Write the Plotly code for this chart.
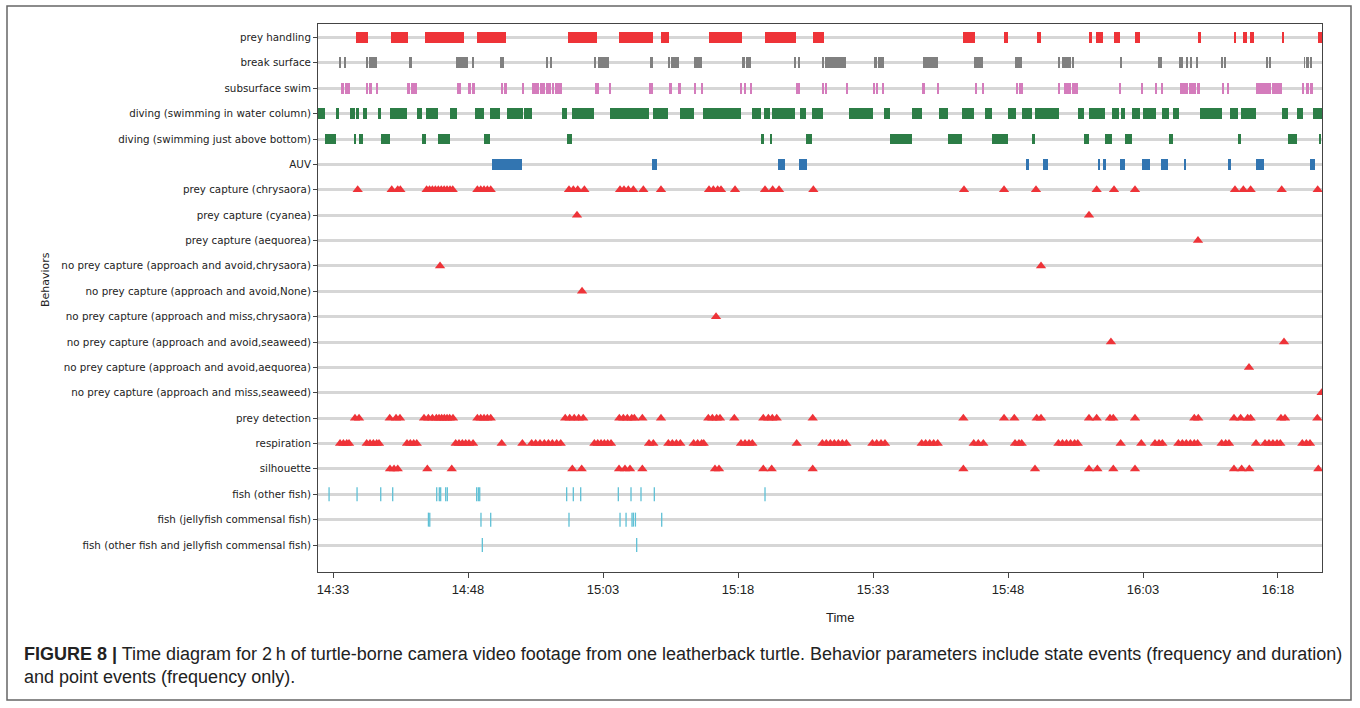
import plotly.graph_objects as go

# ---- axis / category labels ----
behaviors = [
    "prey handling", "break surface", "subsurface swim",
    "diving (swimming in water column)", "diving (swimming just above bottom)", "AUV",
    "prey capture (chrysaora)", "prey capture (cyanea)", "prey capture (aequorea)",
    "no prey capture (approach and avoid,chrysaora)", "no prey capture (approach and avoid,None)",
    "no prey capture (approach and miss,chrysaora)", "no prey capture (approach and avoid,seaweed)",
    "no prey capture (approach and avoid,aequorea)", "no prey capture (approach and miss,seaweed)",
    "prey detection", "respiration", "silhouette", "fish (other fish)",
    "fish (jellyfish commensal fish)", "fish (other fish and jellyfish commensal fish)",
]
tick_minutes = [0, 15, 30, 45, 60, 75, 90, 105]          # minutes after 14:33
tick_labels = ["14:33", "14:48", "15:03", "15:18", "15:33", "15:48", "16:03", "16:18"]
x_start, x_end = -1.67, 109.89                           # observed window (minutes after 14:33)

# ---- state events: (start, end) in minutes after 14:33 ----
prey_handling = [(2.52, 3.92), (6.44, 8.30), (10.22, 14.56), (16.03, 19.26), (26.14, 29.30),
                 (31.81, 35.52), (36.44, 37.37), (41.78, 45.41), (48.0, 51.44), (53.3, 54.56),
                 (70.03, 71.37), (74.59, 75.03), (78.19, 78.63), (84.03, 84.33), (84.78, 85.52),
                 (86.74, 87.44), (89.08, 89.70), (96.14, 96.41), (100.14, 100.33), (101.08, 101.52),
                 (101.92, 102.30), (105.44, 105.70), (109.41, 109.89)]
break_surface = [(0.70, 0.82), (1.22, 1.34), (3.67, 3.85), (4.0, 4.85), (8.4, 8.77), (13.7, 14.1),
                 (14.15, 14.97), (15.45, 15.57), (18.6, 18.97), (23.7, 23.82), (24.2, 24.32),
                 (29.03, 29.2), (29.4, 30.7), (35.3, 35.52), (37.26, 37.4), (37.55, 38.48),
                 (40.14, 41.03), (45.48, 45.8), (45.9, 46.41), (51.33, 51.45), (51.7, 51.82),
                 (54.4, 54.6), (54.67, 57.0), (60.14, 60.4), (60.5, 61.22), (65.59, 67.26),
                 (71.33, 71.5), (71.6, 72.0), (72.1, 72.26), (75.78, 75.9), (76.0, 76.12),
                 (76.2, 76.52), (80.59, 80.71), (80.96, 81.5), (81.6, 81.72), (81.85, 82.05),
                 (82.15, 82.27), (87.52, 87.64), (91.63, 92.07), (94.0, 94.12), (94.3, 94.48),
                 (94.85, 94.97), (95.33, 95.45), (95.96, 96.08), (98.74, 98.86), (99.07, 99.19),
                 (103.74, 103.86), (104.1, 104.26), (107.89, 108.0), (108.2, 108.4), (108.6, 108.78)]
subsurface_swim = [(0.85, 1.25), (1.35, 1.89), (3.74, 3.9), (4.1, 4.3), (4.85, 5.04), (8.26, 8.6),
                   (8.7, 9.33), (13.85, 14.0), (14.1, 14.22), (14.96, 15.3), (15.4, 15.78),
                   (18.63, 18.9), (19.0, 19.37), (20.96, 21.19), (22.15, 22.9), (23.0, 23.6),
                   (23.7, 24.2), (24.3, 24.6), (24.7, 25.48), (29.19, 29.3), (29.35, 29.47),
                   (30.7, 30.85), (35.11, 35.25), (35.4, 35.59), (37.37, 37.63), (38.44, 38.63),
                   (40.17, 40.29), (40.98, 41.1), (45.33, 45.45), (45.7, 45.82), (46.4, 46.52),
                   (51.44, 51.89), (54.44, 54.6), (54.7, 54.85), (57.0, 57.26), (60.04, 60.25),
                   (60.35, 60.52), (61.1, 61.22), (65.48, 65.78), (67.2, 67.32), (71.33, 71.59),
                   (72.2, 72.32), (75.96, 76.15), (76.25, 76.4), (76.45, 76.59), (80.65, 80.77),
                   (81.26, 81.5), (81.6, 82.0), (82.1, 82.81), (87.4, 87.52), (89.78, 90.04),
                   (91.41, 91.59), (92.02, 92.14), (94.11, 94.5), (94.6, 95.0), (95.1, 95.5),
                   (95.6, 95.9), (96.0, 96.33), (98.8, 98.92), (99.43, 99.55), (102.56, 104.2),
                   (104.3, 105.41), (107.74, 107.9), (108.1, 108.5), (108.6, 108.93)]
diving_column = [(-1.67, -0.89), (0.3, 0.7), (1.89, 2.4), (2.5, 2.93), (3.3, 3.74), (4.96, 5.33),
                 (6.33, 8.26), (9.33, 9.85), (10.33, 11.63), (13.0, 13.74), (15.74, 16.81),
                 (17.41, 18.59), (19.33, 21.15), (21.22, 22.15), (25.41, 25.96), (26.59, 29.03),
                 (30.81, 35.11), (35.59, 37.26), (38.59, 40.14), (41.11, 45.33), (46.52, 47.52),
                 (47.93, 48.59), (48.74, 51.33), (51.89, 52.52), (53.19, 54.48), (57.33, 60.04),
                 (61.22, 61.89), (64.3, 65.48), (67.3, 68.3), (69.93, 71.26), (72.41, 73.19),
                 (74.96, 75.89), (76.59, 77.63), (78.0, 80.67), (82.81, 83.48), (84.0, 85.78),
                 (86.52, 87.37), (87.56, 88.0), (88.74, 89.67), (90.04, 91.41), (92.11, 92.89),
                 (93.37, 94.0), (96.3, 98.74), (99.63, 100.52), (100.89, 102.56), (105.41, 106.07),
                 (107.15, 107.74), (108.93, 109.89)]
diving_bottom = [(-0.89, 0.3), (2.33, 2.48), (2.93, 3.3), (5.33, 6.33), (9.85, 10.33), (11.63, 13.0),
                 (16.81, 17.41), (25.96, 26.59), (47.52, 47.93), (48.56, 48.7), (52.52, 53.19),
                 (61.89, 64.3), (68.3, 69.93), (73.19, 74.96), (77.63, 78.0), (83.48, 84.0),
                 (85.78, 86.52), (88.0, 88.74), (92.89, 93.37), (100.52, 100.89), (106.07, 107.15),
                 (109.56, 109.68)]
auv = [(17.63, 21.04), (35.48, 36.04), (49.48, 50.22), (51.78, 52.63), (77.0, 77.37), (78.85, 79.48),
       (84.96, 85.22), (85.52, 85.85), (87.48, 88.04), (89.93, 90.78), (92.04, 92.81), (94.56, 94.81),
       (99.48, 99.78), (102.52, 103.48), (108.56, 109.11)]

# ---- point events: minutes after 14:33 ----
capture_chrysaora = [2.74, 6.52, 7.19, 7.48, 10.4, 10.72, 11.04, 11.37, 11.7, 12.03, 12.35, 12.67,
                     13.0, 13.3, 16.04, 16.41, 16.78, 17.15, 17.52, 26.22, 26.7, 27.19, 27.93,
                     31.89, 32.33, 32.81, 33.37, 34.48, 36.44, 41.78, 42.26, 42.74, 43.11, 44.67,
                     48.0, 48.85, 49.56, 53.37, 70.11, 74.56, 78.11, 84.85, 86.78, 89.11, 100.22,
                     101.15, 101.96, 105.41, 109.41]
capture_cyanea = [27.11, 84.0]
capture_aequorea = [96.11]
npc_avoid_chrysaora = [11.89, 78.67]
npc_avoid_none = [27.67]
npc_miss_chrysaora = [42.56]
npc_avoid_seaweed = [86.44, 105.67]
npc_avoid_aequorea = [101.78]
npc_miss_seaweed = [109.85]
prey_detection = [2.44, 2.89, 6.3, 7.0, 7.44, 10.11, 10.59, 11.04, 11.48, 11.78, 12.07, 12.37, 12.67,
                  12.96, 13.33, 16.04, 16.41, 16.78, 17.15, 17.52, 25.8, 26.3, 26.8, 27.3, 27.8,
                  31.81, 32.26, 32.7, 33.19, 33.48, 34.37, 36.44, 41.7, 42.15, 42.63, 43.0, 44.59,
                  47.81, 48.37, 48.81, 49.3, 53.3, 70.04, 74.56, 75.7, 78.19, 78.67, 84.0, 84.85,
                  86.33, 86.7, 89.11, 95.7, 96.14, 100.11, 100.85, 101.63, 101.96, 105.33, 105.78,
                  109.37]
respiration = [0.78, 1.15, 1.52, 1.78, 3.74, 4.11, 4.48, 4.85, 5.11, 8.22, 8.59, 8.96, 9.3, 13.63,
               14.0, 14.37, 14.74, 15.11, 15.56, 18.74, 21.04, 22.07, 22.52, 23.0, 23.48, 23.93,
               24.37, 24.85, 25.3, 29.04, 29.41, 29.78, 30.15, 30.52, 30.89, 35.11, 35.59, 37.26,
               37.7, 38.15, 38.59, 40.07, 40.52, 40.96, 41.19, 45.33, 45.78, 46.22, 46.59, 51.52,
               54.37, 54.81, 55.26, 55.7, 56.15, 56.59, 57.04, 59.93, 60.41, 60.89, 61.33, 65.41,
               65.85, 66.3, 66.74, 67.19, 71.19, 71.7, 72.26, 75.78, 76.22, 76.52, 80.6, 81.05,
               81.5, 81.95, 82.4, 82.75, 87.52, 89.81, 91.33, 91.78, 92.15, 93.93, 94.37, 94.81,
               95.26, 95.7, 96.07, 98.74, 99.19, 99.56, 102.56, 103.56, 104.0, 104.44, 104.89,
               105.26, 107.7, 108.15, 108.56]
silhouette = [6.33, 6.78, 7.19, 10.48, 13.19, 26.59, 27.63, 31.78, 32.44, 33.0, 34.37, 42.44, 42.89,
              47.81, 48.74, 53.3, 70.04, 78.0, 84.0, 84.93, 86.7, 89.11, 100.11, 100.96, 101.81,
              109.48]
fish_other = [-0.44, 2.67, 5.3, 6.63, 11.52, 11.81, 11.96, 12.52, 12.7, 15.96, 16.15, 16.3, 25.96,
              26.7, 27.52, 31.7, 33.11, 34.22, 35.7, 48.0]
fish_commensal = [10.6, 10.75, 16.44, 17.52, 26.22, 31.89, 32.56, 33.22, 33.37, 33.6, 36.52]
fish_both = [16.59, 33.74]

caption_bold = "FIGURE 8 |"
caption_1 = (" Time diagram for 2\u2009h of turtle-borne camera video footage from one leatherback "
             "turtle. Behavior parameters include state events (frequency and duration)")
caption_2 = "and point events (frequency only)."

# ---- styling ----
RED, GRAY, PINK, GREEN, BLUE, CYAN = "#ee3338", "#808080", "#d47cbc", "#2c7d46", "#3275b1", "#5fc1d6"
CAPFONT = "Liberation Sans Narrow, Liberation Sans, Arial"

fig = go.Figure()

states = [("prey handling", prey_handling, RED), ("break surface", break_surface, GRAY),
          ("subsurface swim", subsurface_swim, PINK),
          ("diving (swimming in water column)", diving_column, GREEN),
          ("diving (swimming just above bottom)", diving_bottom, GREEN), ("AUV", auv, BLUE)]
for name, segs, col in states:
    row = behaviors.index(name)
    fig.add_trace(go.Bar(orientation="h", y=[row] * len(segs),
                         base=[s for s, e in segs], x=[e - s for s, e in segs],
                         width=0.43, marker=dict(color=col, line=dict(width=0)),
                         showlegend=False, hoverinfo="skip"))

points = [("prey capture (chrysaora)", capture_chrysaora),
          ("prey capture (cyanea)", capture_cyanea), ("prey capture (aequorea)", capture_aequorea),
          ("no prey capture (approach and avoid,chrysaora)", npc_avoid_chrysaora),
          ("no prey capture (approach and avoid,None)", npc_avoid_none),
          ("no prey capture (approach and miss,chrysaora)", npc_miss_chrysaora),
          ("no prey capture (approach and avoid,seaweed)", npc_avoid_seaweed),
          ("no prey capture (approach and avoid,aequorea)", npc_avoid_aequorea),
          ("no prey capture (approach and miss,seaweed)", npc_miss_seaweed),
          ("prey detection", prey_detection), ("respiration", respiration),
          ("silhouette", silhouette)]
for name, xs in points:
    row = behaviors.index(name)
    fig.add_trace(go.Scatter(x=xs, y=[row] * len(xs), mode="markers", cliponaxis=True,
                             marker=dict(symbol="triangle-up", size=9, color=RED, line=dict(width=0)),
                             showlegend=False, hoverinfo="skip"))

for name, xs in [("fish (other fish)", fish_other), ("fish (jellyfish commensal fish)", fish_commensal),
                 ("fish (other fish and jellyfish commensal fish)", fish_both)]:
    row = behaviors.index(name)
    fig.add_trace(go.Scatter(x=xs, y=[row] * len(xs), mode="markers",
                             marker=dict(symbol="line-ns", size=10, color=CYAN,
                                         line=dict(width=1.3, color=CYAN)),
                             showlegend=False, hoverinfo="skip"))

# plot area: x 318..1322 px, y 24..572 px
L, R, T, B, W, H = 318, 1322, 24, 572, 1360, 708
pw, ph = R - L, B - T
px = lambda v: (v - L) / pw
py = lambda v: (B - v) / ph

fig.update_layout(
    width=W, height=H, barmode="overlay", bargap=0,
    margin=dict(l=L, r=W - R, t=T, b=H - B, pad=0),
    paper_bgcolor="white", plot_bgcolor="white",
    xaxis=dict(range=[x_start, x_end], tickvals=tick_minutes, ticktext=tick_labels,
               showgrid=False, zeroline=False, showline=True, mirror=True,
               linecolor="#444", linewidth=1, ticks="outside", ticklen=5, tickcolor="#444",
               tickfont=dict(family=CAPFONT, size=13, color="#222")),
    yaxis=dict(range=[21.064, -0.532], tickvals=list(range(len(behaviors))), ticktext=behaviors,
               showgrid=True, gridcolor="#d6d6d6", gridwidth=2.5, zeroline=False,
               showline=True, mirror=True, linecolor="#444", linewidth=1,
               ticks="outside", ticklen=4, tickcolor="#444",
               tickfont=dict(family="DejaVu Sans", size=10.3, color="#222")),
    shapes=[dict(type="rect", xref="paper", yref="paper", x0=px(7), x1=px(1351), y0=py(700), y1=py(6),
                 line=dict(color="#666", width=1.5), fillcolor="rgba(0,0,0,0)", layer="below")],
    annotations=[
        dict(text="Behaviors", x=px(45), y=py(280), xref="paper", yref="paper", textangle=-90,
             xanchor="center", yanchor="middle",
             showarrow=False, font=dict(family="DejaVu Sans", size=11, color="#222")),
        dict(text="Time", x=px(840), y=py(617), xref="paper", yref="paper", showarrow=False,
             xanchor="center", yanchor="middle",
             font=dict(family=CAPFONT, size=13, color="#222")),
        dict(text="<b>" + caption_bold + "</b>" + caption_1, x=px(22), y=py(654), xref="paper",
             yref="paper", xanchor="left", yanchor="middle", showarrow=False, align="left",
             font=dict(family=CAPFONT, size=18, color="#222")),
        dict(text=caption_2, x=px(22), y=py(677), xref="paper", yref="paper", xanchor="left",
             yanchor="middle", showarrow=False, align="left",
             font=dict(family=CAPFONT, size=18, color="#222")),
    ],
)

fig.write_html("out.html", config={"displayModeBar": False},
               post_script="document.body.style.margin='0';document.body.style.overflow='hidden';")
